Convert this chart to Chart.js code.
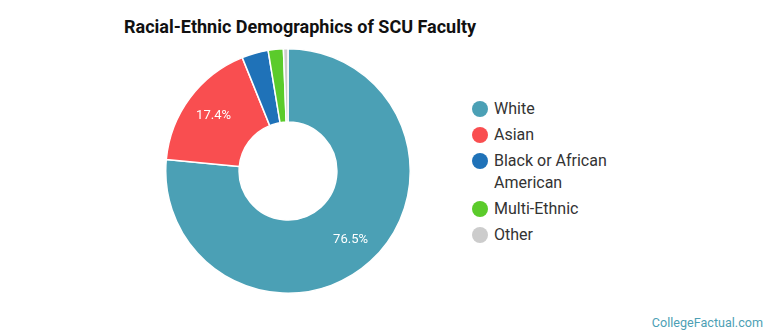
<!DOCTYPE html>
<html>
<head>
<meta charset="utf-8">
<script src="https://cdn.jsdelivr.net/npm/chart.js@4"></script>
<style>
  body { margin: 0; background: #fff; font-family: Roboto, sans-serif; }
  #wrap { position: relative; width: 770px; height: 335px; overflow: hidden; }
  #title { position: absolute; left: 124px; top: 16px; font-size: 18px; font-weight: bold; color: #111; }
  #chart { position: absolute; left: 165px; top: 48px; }
  #legend { position: absolute; left: 472px; top: 98px; font-size: 16px; color: #333; }
  .item { position: relative; padding-left: 22px; line-height: 22px; margin-bottom: 4px; }
  .dot { position: absolute; left: 0; top: 3px; width: 16px; height: 16px; border-radius: 50%; }
  #credit { position: absolute; right: 7px; bottom: 5px; font-size: 12.6px; color: #4d9fb5; }
</style>
</head>
<body>
<div id="wrap">
  <div id="title">Racial-Ethnic Demographics of SCU Faculty</div>
  <canvas id="chart" width="246" height="246"></canvas>
  <div id="legend"></div>
  <div id="credit">CollegeFactual.com</div>
</div>
<script>
const categorias = ['White', 'Asian', 'Black or African American', 'Multi-Ethnic', 'Other'];
const porcentajes = [76.5, 17.4, 3.5, 2.0, 0.6];
const colores = ['#4ba0b5', '#f94e50', '#1f72b8', '#5bcb2b', '#cccccc'];

// leyenda en html para poder partir "Black or African American"
const legend = document.getElementById('legend');
categorias.forEach((cat, i) => {
  const div = document.createElement('div');
  div.className = 'item';
  div.innerHTML = '<span class="dot" style="background:' + colores[i] + '"></span>' +
    (cat === 'Black or African American' ? 'Black or African<br>American' : cat);
  legend.appendChild(div);
});

// etiquetas de porcentaje dentro de los segmentos grandes
const etiquetas = {
  id: 'etiquetas',
  afterDatasetsDraw(chart) {
    const ctx = chart.ctx;
    const meta = chart.getDatasetMeta(0);
    ctx.save();
    ctx.fillStyle = '#fff';
    ctx.font = '13px Roboto';
    ctx.textAlign = 'center';
    ctx.textBaseline = 'middle';
    meta.data.forEach((arc, i) => {
      const v = porcentajes[i];
      if (v < 10) return;
      const p = arc.getProps(['startAngle', 'endAngle', 'innerRadius', 'outerRadius', 'x', 'y'], true);
      const mid = (p.startAngle + p.endAngle) / 2;
      const r = p.innerRadius + 0.6 * (p.outerRadius - p.innerRadius);
      ctx.fillText(v.toFixed(1) + '%', p.x + Math.cos(mid) * r, p.y + Math.sin(mid) * r);
    });
    ctx.restore();
  }
};

new Chart(document.getElementById('chart').getContext('2d'), {
  type: 'doughnut',
  data: {
    labels: categorias,
    datasets: [{
      data: porcentajes,
      backgroundColor: colores,
      borderColor: '#fff',
      borderWidth: 1.5
    }]
  },
  options: {
    responsive: false,
    animation: false,
    cutout: '40%',
    layout: { padding: 0 },
    plugins: {
      legend: { display: false },
      tooltip: { enabled: false }
    }
  },
  plugins: [etiquetas]
});
</script>
</body>
</html>
